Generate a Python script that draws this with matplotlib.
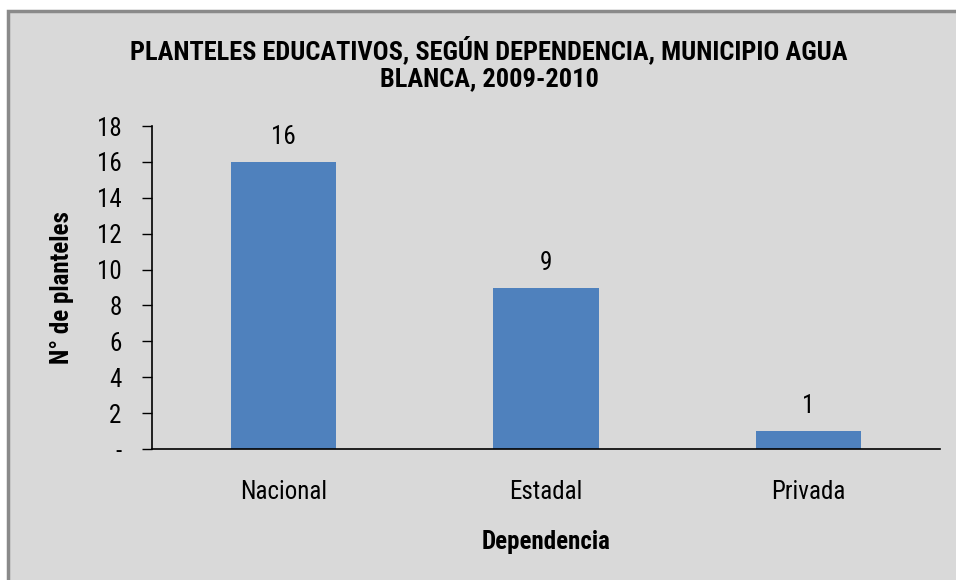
import matplotlib
matplotlib.use("Agg")
import matplotlib.pyplot as plt
from matplotlib.patches import Rectangle

# Data
categorias = ["Nacional", "Estadal", "Privada"]
planteles = [16, 9, 1]
y_ticks = [0, 2, 4, 6, 8, 10, 12, 14, 16, 18]
y_labels = ["-", "2", "4", "6", "8", "10", "12", "14", "16", "18"]

plt.rcParams["font.family"] = ["Liberation Sans Narrow", "Roboto Condensed",
                               "Archivo Narrow", "DejaVu Sans"]

fig = plt.figure(figsize=(9.56, 5.8), dpi=100)
fig.patch.set_facecolor("white")

# gray chart area with a border on top and left
W, H = 956, 580
fig.patches.append(Rectangle((8 / W, -0.05), 1.1, 1 - 11 / H + 0.05,
                             transform=fig.transFigure, facecolor="#d9d9d9",
                             edgecolor="#8a8a8a", linewidth=2.5, zorder=-10))

ax = fig.add_axes([152 / W, 1 - 449 / H, (940 - 152) / W, (449 - 126) / H])
ax.set_facecolor("none")
ax.set_zorder(5)

x = range(len(categorias))
bars = ax.bar(x, planteles, width=0.4, color="#4f81bd", zorder=2)

for xi, v in zip(x, planteles):
    ax.annotate(str(v), (xi, v), xytext=(0, 18), textcoords="offset points",
                ha="center", va="center", fontsize=18)

ax.set_xlim(-0.5, 2.5)
ax.set_ylim(0, 18)
ax.set_yticks(y_ticks)
ax.set_yticklabels(y_labels, fontsize=18)
ax.set_xticks(list(x))
ax.set_xticklabels(categorias, fontsize=18)
ax.tick_params(axis="x", length=0, pad=22)
ax.tick_params(axis="y", length=7, width=1, direction="out", pad=15)

for s in ["top", "right"]:
    ax.spines[s].set_visible(False)
ax.spines["left"].set_linewidth(1.2)
ax.spines["bottom"].set_linewidth(1.2)

ax.set_ylabel("N° de planteles", fontsize=18, fontweight="bold", va="center")
ax.yaxis.set_label_coords((62 - 152) / 788, 0.5)
ax.set_xlabel("Dependencia", fontsize=18, fontweight="bold", va="center")
ax.xaxis.set_label_coords(0.5, (449 - 542) / 323)

fig.text(489 / W, 1 - 63 / H,
         "PLANTELES EDUCATIVOS, SEGÚN DEPENDENCIA, MUNICIPIO AGUA\nBLANCA, 2009-2010",
         ha="center", va="center", fontsize=19, fontweight="bold", linespacing=1.15)

fig.savefig("out.png", dpi=100)
